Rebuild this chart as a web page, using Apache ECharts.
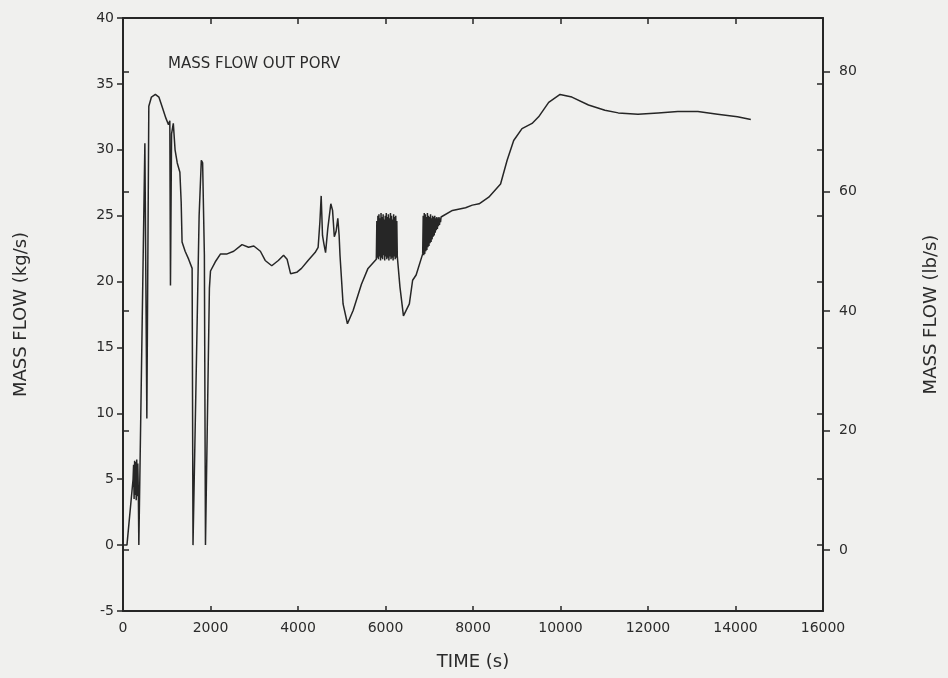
<!DOCTYPE html>
<html>
<head>
<meta charset="utf-8">
<title>Mass flow out PORV</title>
<script src="https://cdn.jsdelivr.net/npm/echarts@6/dist/echarts.min.js"></script>
<style>
  html, body { margin: 0; padding: 0; background: #f0f0ee; }
  #echart_main { width: 948px; height: 678px; }
</style>
</head>
<body>
<div id="echart_main"></div>
<script>
// time (s) and mass flow (kg/s)
var timeS = [
    0, 90, 230, 242, 254, 266, 278, 290, 302, 314, 326, 338, 350, 362,
    500, 545, 590, 650, 740, 820, 900, 980, 1040, 1070, 1085, 1110, 1150, 1190, 1240, 1300, 1330, 1350, 1420, 1500, 1580,
    1600, 1620, 1740, 1790, 1820, 1860, 1885, 1900, 1975, 2000, 2040,
    2110, 2230, 2380, 2530, 2720, 2870, 2990, 3140, 3250, 3400, 3550, 3670, 3750, 3830, 3970, 4080, 4230, 4390, 4460,
    4500, 4530, 4560, 4590, 4630, 4680, 4750, 4790, 4830, 4870, 4910, 4940, 4960,
    5030, 5130, 5260, 5450, 5600, 5790,
    5802, 5814, 5826, 5838, 5850, 5862, 5874, 5886, 5898, 5910, 5922, 5934, 5946, 5958, 5970, 5982, 5994, 6006, 6018, 6030,
    6042, 6054, 6066, 6078, 6090, 6102, 6114, 6126, 6138, 6150, 6162, 6174, 6186, 6198, 6210, 6222, 6234, 6246, 6258, 6270,
    6290, 6330, 6410, 6450, 6545, 6620, 6700, 6850,
    6862, 6874, 6886, 6898, 6910, 6922, 6934, 6946, 6958, 6970, 6982, 6994, 7006, 7018, 7030, 7042, 7054, 7066, 7078, 7090,
    7102, 7114, 7126, 7138, 7150, 7162, 7174, 7186, 7198, 7210, 7222, 7234, 7246, 7258, 7270,
    7300, 7530, 7830, 7985, 8140, 8360, 8630, 8780, 8930, 9120, 9350, 9500, 9730, 9990,
    10260, 10640, 11015, 11320, 11770, 12230, 12680, 13140, 13590, 14045, 14350
];
var flowKg = [
    0, 0, 5.0, 6.1, 3.5, 6.4, 3.8, 6.3, 3.4, 6.5, 3.7, 6.2, 4.2, 0,
    30.5, 9.6, 33.3, 34.0, 34.2, 34.0, 33.2, 32.4, 31.9, 32.2, 19.7, 31.2, 32.0, 30.0, 29.0, 28.3, 26.0, 23.0, 22.3, 21.7, 21.0,
    0, 0, 25.0, 29.2, 29.0, 22.0, 0, 0, 19.5, 20.8, 20.9,
    21.5, 22.1, 22.1, 22.3, 22.8, 22.6, 22.7, 22.3, 21.6, 21.2, 21.6, 22.0, 21.7, 20.6, 20.7, 21.0, 21.6, 22.2, 22.6,
    24.5, 26.5, 23.5, 22.9, 22.2, 24.0, 25.9, 25.4, 23.4, 23.8, 24.8, 23.5, 22.0,
    18.3, 16.8, 17.8, 19.8, 21.0, 21.7,
    24.6, 21.8, 25.0, 21.7, 25.1, 21.9, 24.8, 21.6, 25.2, 21.8, 24.9, 21.7, 25.1, 22.0, 24.7, 21.6, 25.0, 21.9, 25.2, 21.7,
    24.9, 21.8, 25.1, 21.6, 24.8, 21.9, 25.2, 21.7, 25.0, 21.8, 24.7, 21.6, 25.1, 21.9, 24.9, 21.7, 25.0, 21.8, 24.6, 21.9,
    21.8, 19.6, 17.4, 17.5, 18.3, 20.1, 20.5, 22.1,
    25.0, 22.0, 25.2, 22.1, 25.1, 22.3, 24.9, 22.4, 25.2, 22.6, 25.0, 22.7, 24.9, 22.9, 25.1, 23.0, 24.8, 23.2, 25.0, 23.4,
    24.9, 23.5, 25.0, 23.7, 24.8, 23.9, 24.9, 24.0, 24.8, 24.2, 24.9, 24.3, 24.8, 24.5, 24.9,
    24.9, 25.4, 25.6, 25.8, 25.9, 26.4, 27.4, 29.2, 30.7, 31.6, 32.0, 32.5, 33.6, 34.2,
    34.0, 33.4, 33.0, 32.8, 32.7, 32.8, 32.9, 32.9, 32.7, 32.5, 32.3
];
var lbTicks = [0, 20, 40, 60, 80];

var fontName = 'DejaVu Sans';
var inkColor = '#262626';

function buildData() {
    var pts = [];
    for (var i = 0; i < timeS.length; i++) {
        pts.push([timeS[i], flowKg[i]]);
    }
    return pts;
}

// plain numbers, no thousands separator
function plain(v) {
    return String(v);
}

function drawChart() {
    var myChart = echarts.init(document.getElementById('echart_main'));
    var axisLineStyle = { show: true, onZero: false, lineStyle: { color: inkColor, width: 2 } };
    var labelStyle = { color: '#2b2b2b', fontSize: 14, fontFamily: fontName, formatter: plain };
    var nameStyle = { color: '#2b2b2b', fontSize: 18, fontFamily: fontName };
    var option = {
        backgroundColor: '#f0f0ee',
        animation: false,
        title: {
            text: 'MASS FLOW OUT PORV',
            left: 163,
            top: 52,
            textStyle: { color: '#2b2b2b', fontSize: 15, fontWeight: 'normal', fontFamily: fontName }
        },
        grid: { left: 123, right: 121, top: 18, bottom: 67 },
        xAxis: [
            {
                type: 'value',
                position: 'bottom',
                min: 0,
                max: 16000,
                interval: 2000,
                name: 'TIME (s)',
                nameLocation: 'middle',
                nameGap: 42,
                nameTextStyle: nameStyle,
                axisLine: axisLineStyle,
                axisTick: { show: true, inside: true, length: 5, lineStyle: { color: inkColor, width: 1.5 } },
                axisLabel: Object.assign({ margin: 10 }, labelStyle),
                splitLine: { show: false }
            },
            {
                type: 'value',
                position: 'top',
                min: 0,
                max: 16000,
                interval: 2000,
                axisLine: axisLineStyle,
                axisTick: { show: true, inside: true, length: 6, lineStyle: { color: inkColor, width: 1.5 } },
                axisLabel: { show: false },
                splitLine: { show: false }
            }
        ],
        yAxis: [
            {
                type: 'value',
                position: 'left',
                min: -5,
                max: 40,
                interval: 5,
                name: 'MASS FLOW (kg/s)',
                nameLocation: 'middle',
                nameRotate: 90,
                nameGap: 93,
                nameTextStyle: nameStyle,
                axisLine: axisLineStyle,
                axisTick: { show: true, length: 6, lineStyle: { color: inkColor, width: 1.5 } },
                axisLabel: Object.assign({ margin: 9 }, labelStyle),
                splitLine: { show: false }
            },
            {
                type: 'value',
                position: 'right',
                min: -10.2,
                max: 89.0,
                name: 'MASS FLOW (lb/s)',
                nameLocation: 'middle',
                nameRotate: 90,
                nameGap: 99,
                nameTextStyle: nameStyle,
                axisLine: axisLineStyle,
                axisTick: { show: true, length: 7, customValues: lbTicks, lineStyle: { color: inkColor, width: 1.5 } },
                axisLabel: Object.assign({ margin: 16, customValues: lbTicks }, labelStyle),
                splitLine: { show: false }
            },
            {
                // lb/s ticks drawn inside on the left frame
                type: 'value',
                position: 'left',
                min: -10.2,
                max: 89.0,
                axisLine: { show: false, onZero: false },
                axisTick: { show: true, inside: true, length: 6, customValues: lbTicks, lineStyle: { color: inkColor, width: 1.5 } },
                axisLabel: { show: false },
                splitLine: { show: false }
            },
            {
                // kg/s ticks drawn inside on the right frame
                type: 'value',
                position: 'right',
                min: -5,
                max: 40,
                interval: 5,
                axisLine: { show: false, onZero: false },
                axisTick: { show: true, inside: true, length: 6, lineStyle: { color: inkColor, width: 1.5 } },
                axisLabel: { show: false },
                splitLine: { show: false }
            }
        ],
        series: [
            {
                name: 'MASS FLOW OUT PORV',
                type: 'line',
                xAxisIndex: 0,
                yAxisIndex: 0,
                data: buildData(),
                showSymbol: false,
                lineStyle: { color: inkColor, width: 1.5 }
            }
        ]
    };
    myChart.setOption(option);
    window.onresize = function () {
        myChart.resize();
    }
}

drawChart();
</script>
</body>
</html>
